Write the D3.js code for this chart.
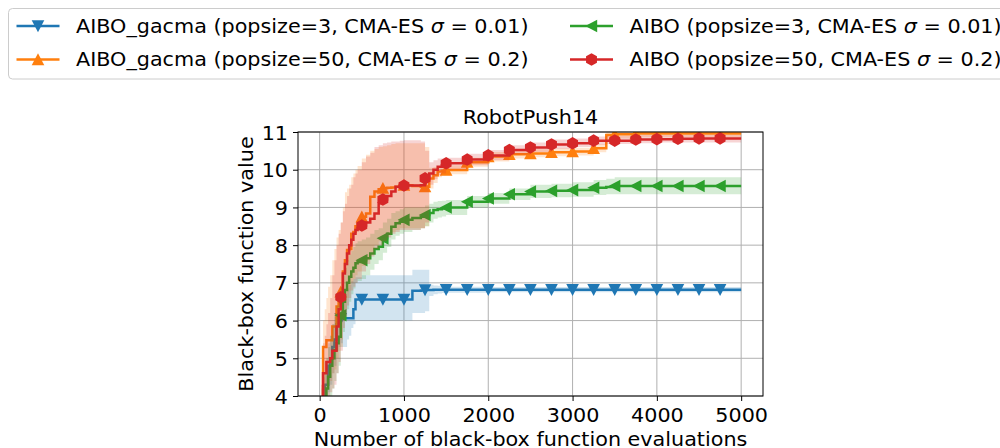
<!DOCTYPE html>
<html>
<head>
<meta charset="utf-8">
<script src="https://cdn.jsdelivr.net/npm/d3@7"></script>
<style>
  html, body { margin: 0; padding: 0; background: #fff; }
  svg { display: block; font-family: "DejaVu Sans", sans-serif; }
</style>
</head>
<body>
<svg id="chart" width="1000" height="448"></svg>
<script>
// Evaluation counts at which the best-so-far value is recorded
const evals = [20, 40, 60, 80, 100, 125, 150, 175, 200, 225, 250, 275, 300, 325, 350, 375, 400, 425, 450, 500,
  550, 600, 650, 700, 750, 800, 850, 900, 950, 1000, 1100, 1200, 1250, 1300, 1350, 1400, 1450, 1500,
  1750, 2000, 2250, 2500, 2750, 3000, 3250, 3400, 3500, 3750, 4000, 4250, 4500, 4750, 5000];

// AIBO_gacma (popsize=3, CMA-ES sigma=0.01)
const gacma3Mean = [3.5, 3.8, 4.3, 4.3, 4.8, 5.0, 5.3, 5.5, 5.9, 6.0, 6.05, 6.06, 6.06, 6.06, 6.06, 6.06, 6.3, 6.56, 6.56, 6.56,
  6.56, 6.56, 6.56, 6.56, 6.56, 6.56, 6.56, 6.56, 6.56, 6.56, 6.79, 6.80, 6.81, 6.81, 6.82, 6.82, 6.82, 6.82,
  6.82, 6.82, 6.82, 6.82, 6.82, 6.82, 6.82, 6.82, 6.82, 6.82, 6.82, 6.82, 6.82, 6.82, 6.82];
const gacma3Lo = [2.8, 3.1, 3.6, 3.7, 4.1, 4.3, 4.6, 4.8, 5.2, 5.3, 5.4, 5.3, 5.3, 5.5, 5.6, 5.8, 5.9, 6.0, 6.0, 6.0,
  6.0, 6.0, 6.0, 6.0, 6.0, 6.0, 6.0, 6.0, 6.0, 6.0, 6.2, 6.2, 6.25, 6.65, 6.7, 6.72, 6.73, 6.74,
  6.74, 6.75, 6.75, 6.75, 6.75, 6.75, 6.75, 6.75, 6.75, 6.75, 6.75, 6.75, 6.75, 6.75, 6.75];
const gacma3Hi = [4.2, 4.5, 4.9, 5.0, 5.4, 5.6, 5.9, 6.1, 6.4, 6.5, 6.55, 6.6, 6.7, 6.85, 6.95, 7.05, 7.1, 7.15, 7.15, 7.2,
  7.2, 7.2, 7.2, 7.2, 7.2, 7.2, 7.2, 7.2, 7.2, 7.2, 7.35, 7.35, 7.35, 6.95, 6.93, 6.92, 6.91, 6.9,
  6.9, 6.89, 6.89, 6.89, 6.89, 6.89, 6.89, 6.89, 6.89, 6.89, 6.89, 6.89, 6.89, 6.89, 6.89];

// AIBO_gacma (popsize=50, CMA-ES sigma=0.2)
const gacma50Mean = [3.6, 5.3, 5.3, 5.48, 5.48, 5.48, 5.84, 5.84, 6.37, 6.5, 6.76, 7.3, 7.6, 7.87, 7.9, 8.3, 8.35, 8.5, 8.6, 8.75,
  8.84, 9.28, 9.42, 9.48, 9.51, 9.52, 9.53, 9.55, 9.59, 9.59, 9.57, 9.55, 9.55, 9.77, 9.85, 9.95, 9.97, 9.99,
  10.20, 10.35, 10.41, 10.43, 10.46, 10.48, 10.57, 10.92, 10.94, 10.96, 10.96, 10.96, 10.96, 10.96, 10.96];
const gacma50Lo = [3.0, 3.8, 4.0, 4.2, 4.3, 4.4, 4.6, 4.7, 5.0, 5.2, 5.5, 6.0, 6.3, 6.6, 6.8, 7.0, 7.1, 7.2, 7.3, 7.45,
  7.6, 7.8, 8.0, 8.1, 8.2, 8.3, 8.35, 8.4, 8.45, 8.45, 8.45, 8.45, 8.5, 9.5, 9.65, 9.8, 9.85, 9.88,
  10.08, 10.22, 10.3, 10.33, 10.36, 10.38, 10.46, 10.8, 10.83, 10.86, 10.86, 10.86, 10.86, 10.86, 10.86];
const gacma50Hi = [4.3, 6.0, 6.3, 6.6, 6.9, 7.2, 7.6, 7.9, 8.2, 8.4, 8.6, 9.0, 9.4, 9.5, 9.6, 9.8, 9.9, 10.0, 10.1, 10.3,
  10.4, 10.5, 10.55, 10.6, 10.62, 10.65, 10.68, 10.7, 10.7, 10.7, 10.7, 10.7, 10.6, 10.05, 10.07, 10.1, 10.1, 10.12,
  10.32, 10.47, 10.52, 10.54, 10.56, 10.58, 10.68, 11.05, 11.06, 11.08, 11.08, 11.08, 11.08, 11.08, 11.08];

// AIBO (popsize=3, CMA-ES sigma=0.01)
const aibo3Mean = [3.5, 3.6, 3.9, 4.2, 4.51, 4.8, 5.0, 5.22, 5.4, 5.57, 6.14, 6.5, 6.81, 7.0, 7.16, 7.3, 7.4, 7.52, 7.55, 7.60,
  7.65, 7.78, 7.9, 7.96, 8.18, 8.3, 8.49, 8.58, 8.62, 8.67, 8.72, 8.75, 8.80, 8.85, 8.93, 8.95, 8.97, 9.00,
  9.15, 9.24, 9.35, 9.42, 9.44, 9.46, 9.52, 9.54, 9.57, 9.57, 9.57, 9.57, 9.57, 9.57, 9.57];
const aibo3Lo = [3.0, 3.1, 3.3, 3.5, 3.8, 4.0, 4.2, 4.4, 4.6, 4.8, 5.3, 5.7, 6.0, 6.3, 6.5, 6.7, 6.85, 7.0, 7.05, 7.1,
  7.2, 7.35, 7.5, 7.6, 7.8, 7.95, 8.15, 8.25, 8.3, 8.35, 8.4, 8.45, 8.5, 8.6, 8.7, 8.73, 8.76, 8.8,
  9.0, 9.1, 9.2, 9.25, 9.27, 9.28, 9.33, 9.35, 9.35, 9.35, 9.35, 9.35, 9.35, 9.35, 9.35];
const aibo3Hi = [4.0, 4.3, 4.6, 5.0, 5.3, 5.6, 5.9, 6.2, 6.4, 6.6, 6.9, 7.2, 7.4, 7.6, 7.75, 7.85, 7.95, 8.05, 8.1, 8.15,
  8.2, 8.3, 8.4, 8.45, 8.6, 8.7, 8.85, 8.9, 8.95, 9.0, 9.0, 9.0, 9.05, 9.1, 9.15, 9.17, 9.18, 9.2,
  9.3, 9.38, 9.5, 9.6, 9.63, 9.67, 9.73, 9.76, 9.8, 9.8, 9.8, 9.8, 9.8, 9.8, 9.8];

// AIBO (popsize=50, CMA-ES sigma=0.2)
const aibo50Mean = [3.6, 4.6, 4.6, 4.9, 4.9, 5.0, 5.2, 5.2, 5.84, 6.3, 6.62, 7.25, 7.5, 7.78, 8.0, 8.14, 8.3, 8.4, 8.45, 8.52,
  8.6, 8.7, 8.84, 9.11, 9.21, 9.3, 9.42, 9.55, 9.57, 9.58, 9.58, 9.59, 9.77, 9.90, 10.0, 10.08, 10.12, 10.17,
  10.27, 10.38, 10.52, 10.59, 10.67, 10.70, 10.77, 10.77, 10.77, 10.80, 10.81, 10.82, 10.83, 10.83, 10.83];
const aibo50Lo = [3.0, 3.5, 3.7, 3.9, 4.0, 4.1, 4.2, 4.3, 4.6, 4.9, 5.2, 5.8, 6.1, 6.4, 6.6, 6.8, 6.9, 7.0, 7.1, 7.3,
  7.5, 7.7, 7.9, 8.0, 8.1, 8.2, 8.3, 8.35, 8.4, 8.4, 8.4, 8.45, 8.6, 9.6, 9.75, 9.85, 9.9, 10.0,
  10.12, 10.25, 10.4, 10.47, 10.55, 10.6, 10.66, 10.68, 10.68, 10.7, 10.72, 10.72, 10.72, 10.72, 10.72];
const aibo50Hi = [4.3, 5.4, 5.6, 5.9, 6.2, 6.6, 7.2, 7.6, 8.0, 8.3, 8.6, 8.9, 9.1, 9.3, 9.5, 9.6, 9.8, 9.9, 10.0, 10.2,
  10.35, 10.45, 10.6, 10.65, 10.7, 10.72, 10.75, 10.75, 10.77, 10.78, 10.78, 10.75, 10.5, 10.2, 10.25, 10.3, 10.3, 10.32,
  10.42, 10.52, 10.65, 10.72, 10.8, 10.83, 10.88, 10.9, 10.9, 10.92, 10.92, 10.92, 10.92, 10.92, 10.92];

const seriesNames = [
  ["AIBO_gacma (popsize=3, CMA-ES ", "σ", " = 0.01)"],
  ["AIBO_gacma (popsize=50, CMA-ES ", "σ", " = 0.2)"],
  ["AIBO (popsize=3, CMA-ES ", "σ", " = 0.01)"],
  ["AIBO (popsize=50, CMA-ES ", "σ", " = 0.2)"]
];
const seriesColors = ["#1f77b4", "#ff7f0e", "#2ca02c", "#d62728"];
const seriesMarkers = ["down", "up", "left", "hex"];

const xTicks = [0, 1000, 2000, 3000, 4000, 5000];
const yTicks = [4, 5, 6, 7, 8, 9, 10, 11];
const titleText = "RobotPush14";
const xLabel = "Number of black-box function evaluations";
const yLabel = "Black-box function value";

const series = [
  { mean: gacma3Mean, lo: gacma3Lo, hi: gacma3Hi },
  { mean: gacma50Mean, lo: gacma50Lo, hi: gacma50Hi },
  { mean: aibo3Mean, lo: aibo3Lo, hi: aibo3Hi },
  { mean: aibo50Mean, lo: aibo50Lo, hi: aibo50Hi }
].map((s, i) => ({
  ...s,
  name: seriesNames[i],
  color: seriesColors[i],
  marker: seriesMarkers[i],
  rows: evals.map((e, k) => ({ e, m: s.mean[k], lo: s.lo[k], hi: s.hi[k] }))
}));

const svg = d3.select("#chart");
const plot = { left: 298, right: 763, top: 132, bottom: 396 };
const FS = 19;
const WIDEN = 1.09; // glyphs are set slightly wide

const x = d3.scaleLinear().domain([-257, 5259]).range([plot.left, plot.right]);
const y = d3.scaleLinear().domain([4, 11]).range([plot.bottom, plot.top]);

svg.append("defs").append("clipPath").attr("id", "plotclip")
  .append("rect")
  .attr("x", plot.left).attr("y", plot.top)
  .attr("width", plot.right - plot.left).attr("height", plot.bottom - plot.top);

// grid
const grid = svg.append("g").attr("stroke", "#b0b0b0").attr("stroke-width", 1);
xTicks.forEach(t => grid.append("line")
  .attr("x1", x(t)).attr("x2", x(t)).attr("y1", plot.top).attr("y2", plot.bottom));
yTicks.forEach(t => grid.append("line")
  .attr("x1", plot.left).attr("x2", plot.right).attr("y1", y(t)).attr("y2", y(t)));

// marker shapes
const triSize = 6.3;
function markerPath(kind, r) {
  const s = r || triSize;
  if (kind === "down") return `M${-s},${-s * 0.9}L${s},${-s * 0.9}L0,${s * 1.0}Z`;
  if (kind === "up") return `M${-s},${s * 0.9}L${s},${s * 0.9}L0,${-s * 1.0}Z`;
  if (kind === "left") return `M${s * 0.9},${-s}L${s * 0.9},${s}L${-s * 1.0},0Z`;
  const pts = d3.range(6).map(k => {
    const a = Math.PI / 2 + k * Math.PI / 3;
    return [s * Math.cos(a), -s * Math.sin(a)];
  });
  return "M" + pts.map(p => p.join(",")).join("L") + "Z";
}

const area = d3.area().curve(d3.curveStepAfter)
  .x(d => x(d.e)).y0(d => y(d.lo)).y1(d => y(d.hi));
const line = d3.line().curve(d3.curveStepAfter)
  .x(d => x(d.e)).y(d => y(d.m));

const content = svg.append("g").attr("clip-path", "url(#plotclip)");
series.forEach(s => {
  content.append("path").datum(s.rows).attr("d", area)
    .attr("fill", s.color).attr("fill-opacity", 0.2).attr("stroke", "none");
  content.append("path").datum(s.rows).attr("d", line)
    .attr("fill", "none").attr("stroke", s.color).attr("stroke-width", 2.5);
  content.append("g").selectAll("path")
    .data(s.rows.filter(d => d.e % 250 === 0 && d.e >= 250 && d.e < 5000))
    .join("path")
    .attr("transform", d => `translate(${x(d.e)},${y(d.m)})`)
    .attr("d", markerPath(s.marker))
    .attr("fill", s.color);
});

// frame
svg.append("rect")
  .attr("x", plot.left).attr("y", plot.top)
  .attr("width", plot.right - plot.left).attr("height", plot.bottom - plot.top)
  .attr("fill", "none").attr("stroke", "#000").attr("stroke-width", 1);

// axes
const xAxis = d3.axisBottom(x).tickValues(xTicks).tickSize(5).tickPadding(4).tickFormat(d3.format("d"));
const gx = svg.append("g").attr("transform", `translate(0,${plot.bottom})`).call(xAxis);
gx.select(".domain").remove();
gx.selectAll("text").attr("font-size", FS).attr("font-family", "DejaVu Sans").attr("fill", "#000")
  .attr("dy", null).attr("y", 25.7);
gx.selectAll("line").attr("stroke", "#000");

const yAxis = d3.axisLeft(y).tickValues(yTicks).tickSize(5).tickPadding(4).tickFormat(d3.format("d"));
const gy = svg.append("g").attr("transform", `translate(${plot.left},0)`).call(yAxis);
gy.select(".domain").remove();
gy.selectAll("text").attr("font-size", FS).attr("font-family", "DejaVu Sans").attr("fill", "#000")
  .attr("dy", null).attr("y", 7).attr("x", -10);
gy.selectAll("line").attr("stroke", "#000");

// labels
svg.append("text").attr("x", (plot.left + plot.right) / 2).attr("y", 124)
  .attr("text-anchor", "middle").attr("font-size", FS).text(titleText);
svg.append("text").attr("x", (plot.left + plot.right) / 2).attr("y", 445.5)
  .attr("text-anchor", "middle").attr("font-size", FS).text(xLabel);
svg.append("text")
  .attr("transform", `translate(253,${(plot.top + plot.bottom) / 2}) rotate(-90)`)
  .attr("text-anchor", "middle").attr("font-size", FS).text(yLabel);

// legend
const legend = svg.append("g");
legend.append("rect")
  .attr("x", 8.5).attr("y", 8.5).attr("width", 1010).attr("height", 70.5)
  .attr("rx", 4).attr("fill", "#fff").attr("fill-opacity", 0.8)
  .attr("stroke", "#cccccc").attr("stroke-width", 1);
const legendPos = [[16.5, 26], [16.5, 59.5], [570, 26], [570, 59.5]];
series.forEach((s, i) => {
  const [lx, ly] = legendPos[i];
  const g = legend.append("g").attr("transform", `translate(${lx},${ly})`);
  g.append("line").attr("x1", 0).attr("x2", 43).attr("y1", 0).attr("y2", 0)
    .attr("stroke", s.color).attr("stroke-width", 2.5);
  g.append("path").attr("transform", "translate(21.5,0)").attr("d", markerPath(s.marker))
    .attr("fill", s.color);
  const t = g.append("text").attr("x", 59.5).attr("y", 6.5).attr("font-size", FS);
  t.append("tspan").text(s.name[0]);
  t.append("tspan").attr("font-style", "italic").text(s.name[1]);
  t.append("tspan").text(s.name[2]);
});

// widen every label horizontally
svg.selectAll("text").each(function () {
  const len = this.getComputedTextLength();
  d3.select(this).attr("textLength", len * WIDEN).attr("lengthAdjust", "spacingAndGlyphs");
});
</script>
</body>
</html>
